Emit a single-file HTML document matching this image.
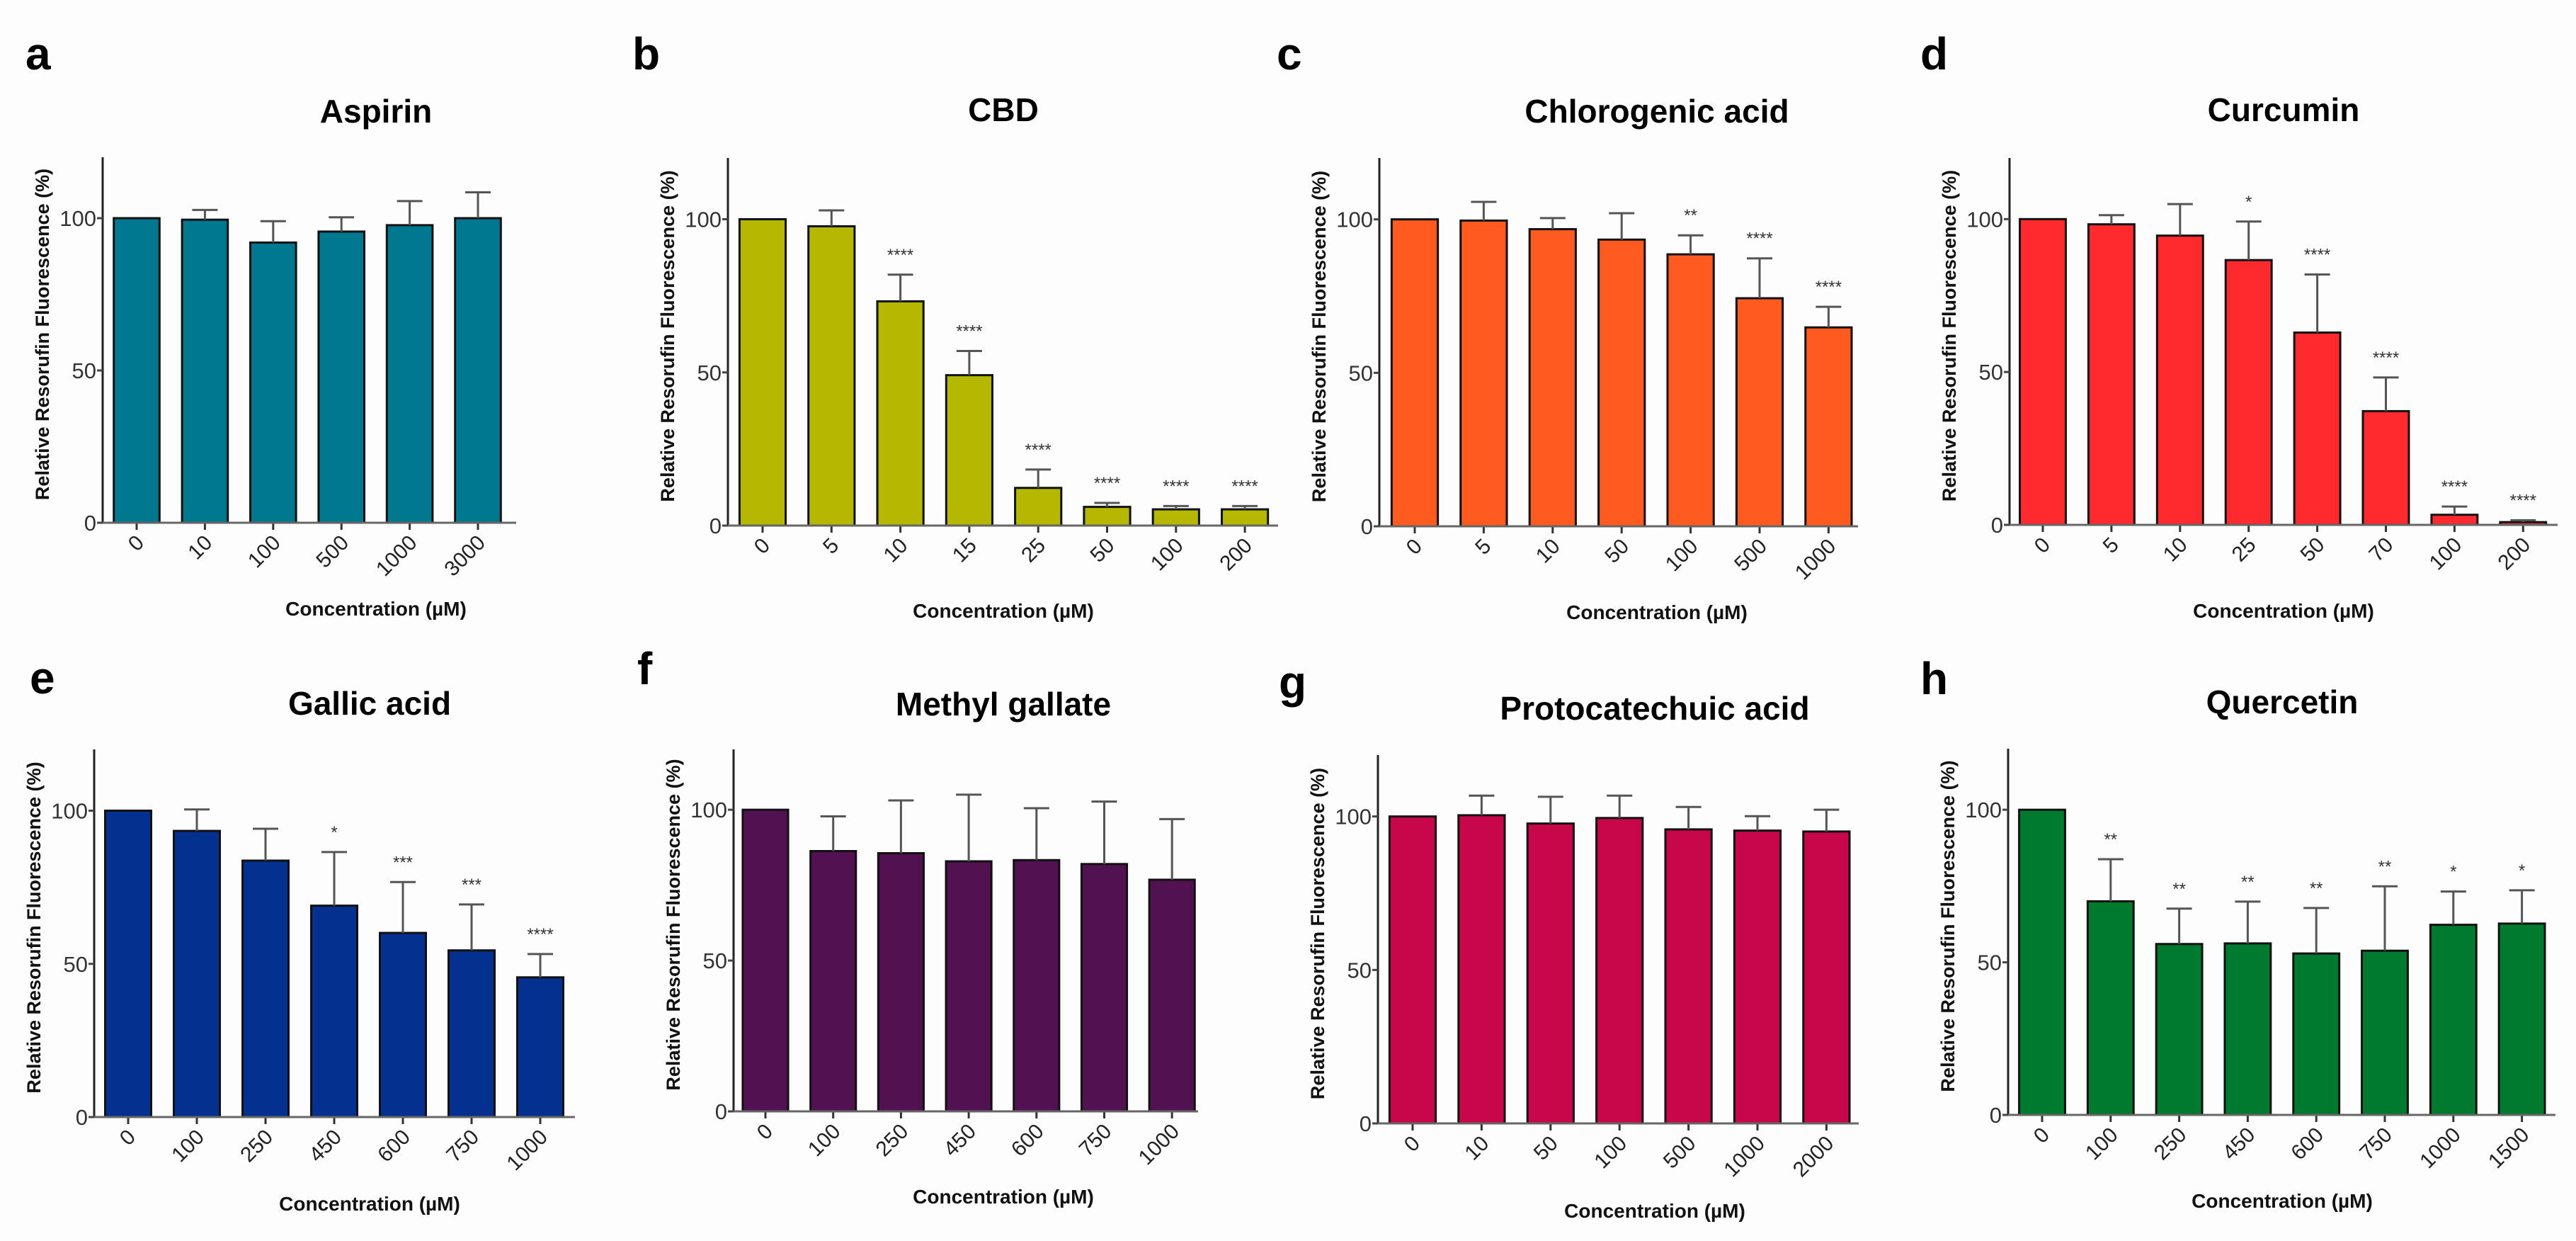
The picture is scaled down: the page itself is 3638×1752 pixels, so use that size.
<!DOCTYPE html>
<html><head><meta charset="utf-8">
<style>
html,body{margin:0;padding:0;background:#fdfdfd;}
svg{display:block;font-family:"Liberation Sans",Arial,sans-serif;}
</style></head>
<body>
<svg id="fig" width="3638" height="1752" viewBox="0 0 3638 1752" xmlns="http://www.w3.org/2000/svg">
<rect x="0" y="0" width="3638" height="1752" fill="#fdfdfd"/>
</svg>
<script>
// ---- data ----
const titles = ["Aspirin","CBD","Chlorogenic acid","Curcumin","Gallic acid","Methyl gallate","Protocatechuic acid","Quercetin"];
const letters = ["a","b","c","d","e","f","g","h"];
const colors = ["#007890","#b5b800","#ff5a1f","#ff2a2e","#04308f","#521252","#c8064a","#007a2e"];
const catA = ["0","10","100","500","1000","3000"];
const catB = ["0","5","10","15","25","50","100","200"];
const catC = ["0","5","10","50","100","500","1000"];
const catD = ["0","5","10","25","50","70","100","200"];
const catE = ["0","100","250","450","600","750","1000"];
const catF = ["0","100","250","450","600","750","1000"];
const catG = ["0","10","50","100","500","1000","2000"];
const catH = ["0","100","250","450","600","750","1000","1500"];
const meanA = [100,99.5,92,95.6,97.7,100];
const meanB = [100,97.7,73.2,49.1,12.3,6.1,5.3,5.3];
const meanC = [100,99.6,96.8,93.4,88.6,74.3,64.8];
const meanD = [100,98.3,94.6,86.6,62.9,37.2,3.3,0.9];
const meanE = [100,93.4,83.7,69,60.1,54.4,45.6];
const meanF = [100,86.3,85.6,82.9,83.3,82,76.8];
const meanG = [100,100.4,97.7,99.5,95.8,95.4,95.1];
const meanH = [100,70,56,56.2,52.9,53.8,62.3,62.7];
const errA = [null,102.7,99,100.3,105.6,108.5];
const errB = [null,102.9,81.9,57,18.3,7.4,6.4,6.4];
const errC = [null,105.7,100.4,102,94.8,87.3,71.5];
const errD = [null,101.3,104.9,99.2,81.9,48.2,6,1.5];
const errE = [null,100.4,94.1,86.5,76.7,69.4,53.2];
const errF = [null,97.8,103.1,105,100.5,102.7,96.9];
const errG = [null,106.8,106.4,106.8,103.1,100.1,102.2];
const errH = [null,83.8,67.6,69.9,67.8,74.9,73.2,73.6];
const sigA = ["","","","","",""];
const sigB = ["","","****","****","****","****","****","****"];
const sigC = ["","","","","**","****","****"];
const sigD = ["","","","*","****","****","****","****"];
const sigE = ["","","","*","***","***","****"];
const sigF = ["","","","","","",""];
const sigG = ["","","","","","",""];
const sigH = ["","**","**","**","**","**","*","*"];
const yTicks = [0,50,100];
const yMax = 120;

// ---- layout ----
const layout = [
 {ax:145, x0:193, step:96.4, zero:738, top:222, end:729, tx:531, ty:157, lx:36, ly:76, cy:859},
 {ax:1028,x0:1077,step:97.3, zero:742, top:223, end:1805,tx:1417,ty:155, lx:893,ly:76, cy:862},
 {ax:1948,x0:1998,step:97.4, zero:743, top:223, end:2624,tx:2340,ty:157, lx:1803,ly:76, cy:864},
 {ax:2838,x0:2885,step:96.9, zero:741, top:223, end:3612,tx:3225,ty:155, lx:2712,ly:76, cy:862},
 {ax:133, x0:181, step:97,   zero:1577,top:1058,end:812, tx:522, ty:993, lx:42, ly:957, cy:1699},
 {ax:1036,x0:1081,step:95.7, zero:1569,top:1058,end:1692,tx:1417,ty:994, lx:900, ly:944, cy:1689},
 {ax:1946,x0:1995,step:97.4, zero:1586,top:1066,end:2625,tx:2337,ty:1000,lx:1806,ly:963, cy:1709},
 {ax:2836,x0:2884,step:96.8, zero:1574,top:1057,end:3609,tx:3223,ty:991, lx:2712,ly:958, cy:1695}
];
const cats=[catA,catB,catC,catD,catE,catF,catG,catH];
const means=[meanA,meanB,meanC,meanD,meanE,meanF,meanG,meanH];
const errs=[errA,errB,errC,errD,errE,errF,errG,errH];
const sigs=[sigA,sigB,sigC,sigD,sigE,sigF,sigG,sigH];

const NS="http://www.w3.org/2000/svg";
const svg=document.getElementById('fig');
function mk(tag,attrs,parent,text){
  const e=document.createElementNS(NS,tag);
  for(const k in attrs) e.setAttribute(k,attrs[k]);
  if(text!==undefined) e.textContent=text;
  (parent||svg).appendChild(e);
  return e;
}

layout.forEach((L,p)=>{
  const g=mk('g',{});
  
  
  const yS=v=>L.zero-(v/yMax)*(L.zero-L.top);
  const xS=i=>L.x0+i*L.step;
  const bw=L.step*0.67;

  const lt=mk('text',{x:L.lx,y:L.ly+22,'font-size':64,'font-weight':'bold',fill:'#000'},g,letters[p]);
  
  
  const tt=mk('text',{x:L.tx,y:L.ty+16,'font-size':46,'font-weight':'bold','text-anchor':'middle',fill:'#000'},g,titles[p]);
  
  

  // bars
  means[p].forEach((v,i)=>{
    const r=mk('rect',{x:xS(i)-bw/2,y:yS(v),width:bw,height:yS(0)-yS(v),fill:colors[p],stroke:'#111','stroke-width':3},g);
    
    
    const e=errs[p][i];
    if(e!==null && e>v){
      const eg=mk('g',{stroke:'#555','stroke-width':3},g);
      
      
      mk('line',{x1:xS(i),x2:xS(i),y1:yS(v),y2:yS(e)},eg);
      mk('line',{x1:xS(i)-18,x2:xS(i)+18,y1:yS(e),y2:yS(e)},eg);
    }
    const s=sigs[p][i];
    if(s){
      const top=(e!==null?Math.max(e,v):v);
      const st=mk('text',{x:xS(i),y:yS(top)-20,'font-size':24,'text-anchor':'middle',fill:'#333'},g,s);
      
      
    }
    const tk=mk('line',{x1:xS(i),x2:xS(i),y1:L.zero,y2:L.zero+10,stroke:'#333','stroke-width':3},g);
    const xl=mk('text',{x:0,y:0,'font-size':30,'text-anchor':'end',fill:'#222',transform:`translate(${xS(i)+12},${L.zero+30}) rotate(-45)`},g,cats[p][i]);
    
    
  });

  // axes
  const ya=mk('line',{x1:L.ax,x2:L.ax,y1:L.top,y2:L.zero+1,stroke:'#222','stroke-width':3},g);
  
  
  const xa=mk('line',{x1:L.ax-8,x2:L.end,y1:L.zero,y2:L.zero,stroke:'#666','stroke-width':3},g);
  
  
  yTicks.forEach(t=>{
    mk('line',{x1:L.ax-8,x2:L.ax,y1:yS(t),y2:yS(t),stroke:'#444','stroke-width':3},g);
    const yl=mk('text',{x:L.ax-9,y:yS(t)+11,'font-size':31,'text-anchor':'end',fill:'#333'},g,String(t));
    
    
  });
  const ymid=(L.top+L.zero)/2-8;
  const yt=mk('text',{x:0,y:0,'font-size':27,'font-weight':'bold','text-anchor':'middle',fill:'#111',transform:`translate(${L.ax-76},${ymid}) rotate(-90)`},g,'Relative Resorufin Fluorescence (%)');
  
  
  const xt=mk('text',{x:L.tx,y:L.cy+10,'font-size':28,'font-weight':'bold','text-anchor':'middle',fill:'#111'},g,'Concentration (µM)');
  
  
});
</script>
</body></html>
